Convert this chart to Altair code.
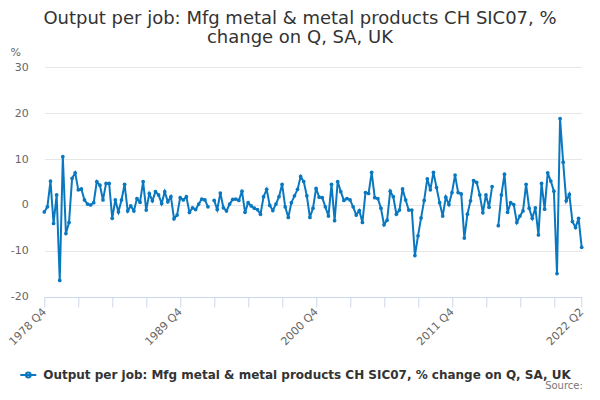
import altair as alt
import pandas as pd

title_lines = ["Output per job: Mfg metal & metal products CH SIC07, %", "change on Q, SA, UK"]
series_name = "Output per job: Mfg metal & metal products CH SIC07, % change on Q, SA, UK"
source_text = "Source:"

start_year = 1978
start_quarter = 4

values = [
    -1.5, -0.4, 5.2, -4.0, 2.2, -16.4, 10.5, -6.2, -3.8, 5.8,
    7.0, 3.3, 3.5, 1.1, 0.2, 0.0, 0.5, 5.1, 4.3, 1.1,
    4.7, 4.7, -2.9, 1.1, -1.5, 1.1, 4.5, -1.3, -0.2, -1.3,
    1.4, 0.6, 5.1, -1.1, 2.5, 0.9, 2.9, 2.2, 0.3, 2.9,
    0.7, 1.8, -3.0, -2.2, 1.6, 1.1, 1.8, -1.6, -0.6, -1.0,
    0.2, 1.3, 1.1, -0.4, None, 1.0, -1.0, 2.6, -0.6, -1.3,
    0.2, 1.2, 1.3, 1.0, 3.0, -1.6, 0.5, -0.2, -0.7, -1.0,
    -2.0, 1.8, 3.4, -0.1, -1.2, 0.2, 1.8, 4.5, -0.4, -2.7,
    0.5, 2.0, 3.4, 6.2, 5.1, 2.0, -2.7, -0.7, 3.6, 1.7,
    1.6, -0.4, -2.4, 4.5, -3.4, 5.1, 2.9, 1.0, 1.4, 1.1,
    -0.4, -2.2, -1.2, -3.8, 2.7, 2.5, 7.1, 1.6, 1.4, -0.7,
    -4.3, -3.3, 3.0, 1.8, -2.0, -1.1, 3.5, 1.1, -1.1, -1.1,
    -11.0, -6.7, -2.8, 1.0, 5.7, 3.3, 7.1, 3.8, 0.5, -2.4,
    1.7, 0.1, 2.7, 6.5, 2.7, 2.4, -7.2, -2.0, 0.9, 5.3,
    4.9, 2.2, -1.7, 2.2, -0.5, 4.0, None, -4.5, 2.2, 6.7,
    -1.6, 0.5, 0.1, -3.8, -2.4, -1.3, 4.5, -0.7, -2.9, -0.6,
    -6.5, 4.7, -0.9, 7.0, 5.2, 3.0, -14.9, 18.8, 9.3, 0.9,
    2.3, -3.6, -4.9, -2.9, -9.2,
]

quarters = []
yr, qt = start_year, start_quarter
for _ in values:
    quarters.append(f"{yr} Q{qt}")
    qt += 1
    if qt > 4:
        qt = 1
        yr += 1

label_ticks = ["1978 Q4", "1989 Q4", "2000 Q4", "2011 Q4", "2022 Q2"]
tick_values = quarters[::11] + [quarters[-1]]
y_ticks = [-20, -10, 0, 10, 20, 30]

df = pd.DataFrame({"quarter": quarters, "value": values, "series": series_name})

line_color = "#0a78c0"
font = "DejaVu Sans"

label_list = "[" + ",".join("'" + s + "'" for s in label_ticks) + "]"

x_enc = alt.X(
    "quarter:O",
    sort=None,
    scale=alt.Scale(type="point", padding=0),
    axis=alt.Axis(
        values=tick_values,
        labelExpr=f"indexof({label_list}, datum.label) >= 0 ? datum.label : ''",
        labelAngle=315,
        labelAlign="right",
        labelBaseline="middle",
        labelColor="#666666",
        labelFontSize=11,
        labelFont=font,
        labelPadding=3,
        labelOverlap=False,
        tickColor="#ccd6eb",
        tickSize=10,
        domainColor="#ccd6eb",
        grid=False,
        title=source_text,
        titleAnchor="end",
        titleAlign="right",
        titleBaseline="alphabetic",
        titleX=538,
        titleY=92,
        titleFontSize=10,
        titleFontWeight="normal",
        titleColor="#777777",
        titleFont=font,
    ),
)

y_enc = alt.Y(
    "value:Q",
    scale=alt.Scale(domain=[-20, 30], nice=False),
    axis=alt.Axis(
        values=y_ticks,
        labelExpr="'' + datum.value",
        labelColor="#666666",
        labelFontSize=11,
        labelFont=font,
        ticks=False,
        domain=False,
        gridColor="#e6e6e6",
        labelPadding=16,
        title="%",
        titleAngle=0,
        titleX=-29,
        titleY=-15,
        titleAlign="center",
        titleBaseline="middle",
        titleFontWeight="normal",
        titleFontSize=11,
        titleColor="#666666",
        titleFont=font,
    ),
)

line = alt.Chart(df).mark_line(strokeWidth=2, invalid="break-paths-show-domains").encode(
    x=x_enc,
    y=y_enc,
    color=alt.Color(
        "series:N",
        scale=alt.Scale(range=[line_color]),
        legend=alt.Legend(
            orient="none",
            legendX=-25,
            legendY=299,
            title=None,
            labelFontSize=12,
            labelFontWeight="bold",
            labelColor="#333333",
            labelFont=font,
            labelLimit=700,
            labelOffset=6,
            symbolType="M-1,0L1,0M-0.3,0A0.3,0.3 0 1,0 0.3,0A0.3,0.3 0 1,0 -0.3,0Z",
            symbolSize=256,
            symbolStrokeWidth=2,
            padding=0,
        ),
    ),
)

points = alt.Chart(df).mark_circle(size=14, color=line_color, opacity=1).encode(
    x=x_enc,
    y=y_enc,
)

chart = (
    alt.layer(line, points)
    .properties(
        width=537.4,
        height=230,
        autosize=alt.AutoSizeParams(type="none"),
        padding={"left": 36.3, "top": 59, "right": 10, "bottom": 98},
        title=alt.TitleParams(
            text=title_lines,
            fontSize=18,
            font=font,
            color="#333333",
            fontWeight="normal",
            anchor="middle",
            dx=-13,
            dy=21,
            lineHeight=19,
            offset=20,
        ),
    )
    .configure_view(stroke=None)
)

chart.save("out.html", embed_options={"renderer": "svg", "actions": False})
